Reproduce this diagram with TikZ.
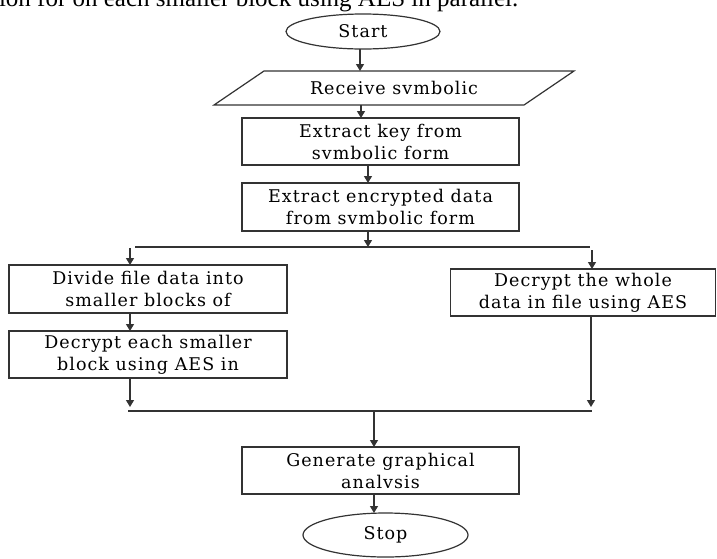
\documentclass[tikz,border=0pt]{standalone}
\usepackage{fontspec}
\setmainfont{Liberation Serif}
\newfontfamily\boxfont[LetterSpace=6]{DejaVu Serif}
\usetikzlibrary{shapes.geometric,arrows.meta}
\tikzset{
  every node/.style={inner sep=0pt, outer sep=0pt},
  line/.style={draw=black!80, line width=1.2pt},
  arr/.style={line, -{Triangle[length=7pt,width=8pt]}},
  boxtext/.style={font=\boxfont\fontsize{17.5}{22}\selectfont},
  procbox/.style={draw=black!80, line width=1.2pt, rectangle, align=center,
    boxtext, fill=white},
  term/.style={draw=black!80, line width=1.2pt, ellipse, align=center, boxtext},
}
\begin{document}
\begin{tikzpicture}[x=1pt,y=-1pt]
\clip (0,0) rectangle (717,558);
\fill[white] (0,0) rectangle (717,558);
% cut-off caption text at the top
\node[anchor=base west, font=\fontsize{25}{28}\selectfont] (cap) at (-1,6.5) {ion for on each smaller block using AES in parallel.};
% start
\node[term, minimum width=154pt, minimum height=35pt] (start) at (363,31.5) {Start};
% parallelogram
\coordinate (p1) at (214,105);
\coordinate (p2) at (264,71);
\coordinate (p3) at (574,71);
\coordinate (p4) at (524,105);
\draw[line] (p1) -- (p2) -- (p3) -- (p4) -- cycle;
\node[minimum width=260pt, minimum height=34pt, boxtext] (recv) at (394,88) {Receive svmbolic};
% boxes
\node[procbox, minimum width=277pt, minimum height=47pt] (key) at (380.5,141.5) {Extract key from\\svmbolic form};
\node[procbox, minimum width=277pt, minimum height=48pt] (enc) at (380.5,207) {Extract encrypted data\\from svmbolic form};
\node[procbox, minimum width=278pt, minimum height=48pt] (div) at (148,289) {Divide file data into\\smaller blocks of};
\node[procbox, minimum width=278pt, minimum height=47pt] (each) at (148,354.5) {Decrypt each smaller\\block using AES in};
\node[procbox, minimum width=265pt, minimum height=47pt] (whole) at (583,292.5) {Decrypt the whole\\data in file using AES};
\node[procbox, minimum width=277pt, minimum height=47pt] (gen) at (380.5,470.5) {Generate graphical\\analvsis};
\node[term, minimum width=165pt, minimum height=44pt] (stop) at (385.5,535) {Stop};
% split and join lines
\coordinate (tl) at (135,247);
\coordinate (tr) at (590,247);
\coordinate (bl) at (128,411);
\coordinate (br) at (592,411);
\coordinate (la) at (130,248);
\coordinate (ra) at (592,250);
\coordinate (lb) at (130,407);
\coordinate (rb) at (591,407);
\coordinate (m1) at (368,247);
\coordinate (m2) at (374,411);
\draw[line] (tl) -- (tr);
\draw[line] (bl) -- (br);
% arrows
\draw[arr] (start.south -| 360,0) -- (360,71);
\draw[arr] (361,105) -- (key.north -| 361,0);
\draw[arr] (key.south -| 368,0) -- (enc.north -| 368,0);
\draw[arr] (enc.south -| m1) -- (m1);
\draw[arr] (la) -- (div.north -| la);
\draw[arr] (ra) -- (whole.north -| ra);
\draw[arr] (div.south -| la) -- (each.north -| la);
\draw[arr] (each.south -| lb) -- (lb);
\draw[arr] (whole.south -| rb) -- (rb);
\draw[arr] (m2) -- (gen.north -| m2);
\draw[arr] (gen.south -| m2) -- (stop.north -| m2);
\end{tikzpicture}
\end{document}
